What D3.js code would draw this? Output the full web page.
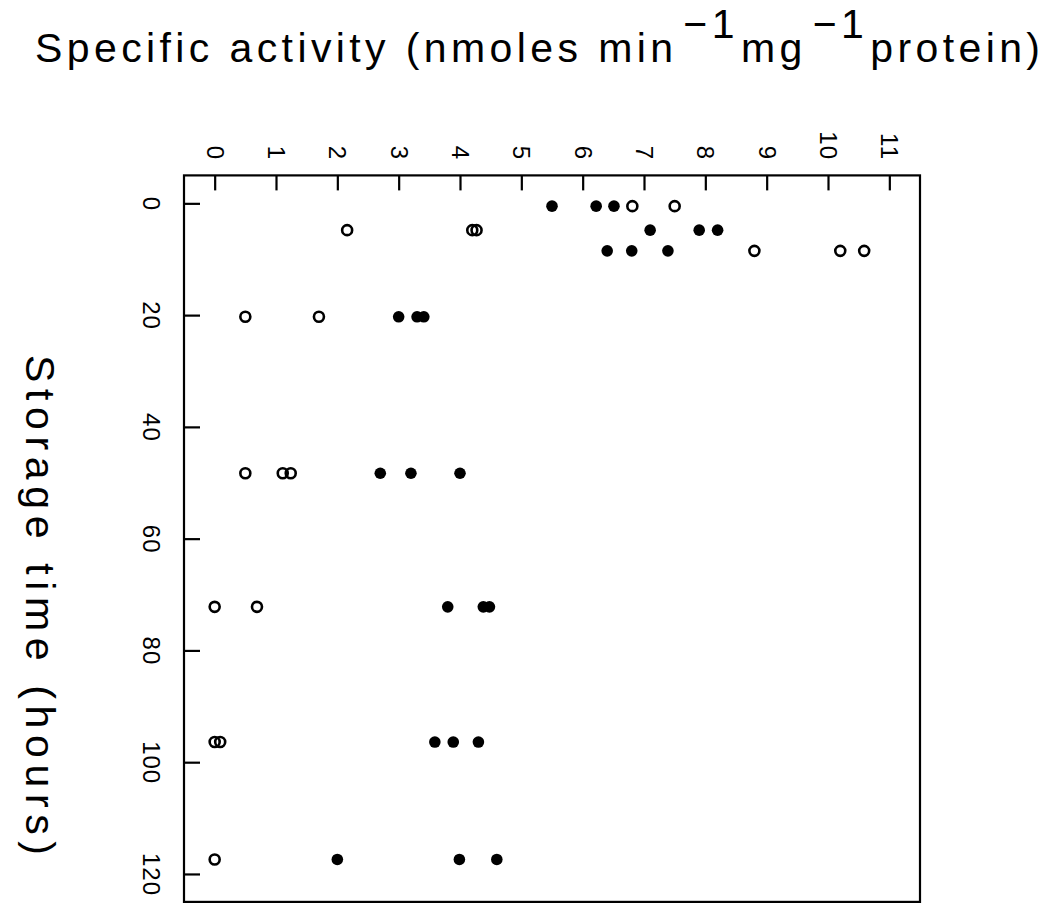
<!DOCTYPE html>
<html>
<head>
<meta charset="utf-8">
<script src="https://cdn.jsdelivr.net/npm/d3@7"></script>
<style>
  html, body { margin: 0; padding: 0; background: #fff; }
  svg { display: block; }
  text { font-family: "Liberation Sans", "DejaVu Sans", sans-serif; fill: #000; }
</style>
</head>
<body>
<svg id="chart" width="1059" height="908"></svg>
<script>
// ---- data ----
const activityTicks = [0, 1, 2, 3, 4, 5, 6, 7, 8, 9, 10, 11];
const timeTicks = [0, 20, 40, 60, 80, 100, 120];

// open circles
const openTime     = [0.5, 0.5, 4.8, 4.8, 4.8, 8.5, 8.5, 8.5, 20.3, 20.3, 48.3, 48.3, 48.3, 72.2, 72.2, 96.4, 96.4, 117.4];
const openActivity = [6.81, 7.50, 2.16, 4.20, 4.27, 8.80, 10.20, 10.59, 0.50, 1.70, 0.50, 1.11, 1.24, 0.00, 0.69, 0.00, 0.09, 0.00];

// filled circles
const filledTime     = [0.5, 0.5, 0.5, 4.8, 4.8, 4.8, 8.5, 8.5, 8.5, 20.3, 20.3, 20.3, 48.3, 48.3, 48.3, 72.2, 72.2, 72.2, 96.4, 96.4, 96.4, 117.4, 117.4, 117.4];
const filledActivity = [5.50, 6.22, 6.51, 7.10, 7.90, 8.20, 6.40, 6.80, 7.39, 3.00, 3.30, 3.41, 2.70, 3.20, 4.00, 3.80, 4.38, 4.48, 3.59, 3.89, 4.30, 2.00, 3.99, 4.60];

const titleParts = ["Specific activity (nmoles min", "\u22121", "mg", "\u22121", "protein)"];
const timeLabel = "Storage time (hours)";

// ---- layout ----
const svg = d3.select("#chart");
const pL = 184, pR = 920, pT = 175.4, pB = 901.9;

const x = d3.scaleLinear().domain([-0.5, 11.5]).range([pL, pR]);
const y = d3.scaleLinear().domain([-5, 125]).range([pT, pB]);

// frame
svg.append("rect")
  .attr("x", pL).attr("y", pT)
  .attr("width", pR - pL).attr("height", pB - pT)
  .attr("fill", "none").attr("stroke", "#000").attr("stroke-width", 2.2);

// top axis (activity)
const gx = svg.append("g")
  .attr("transform", `translate(0,${pT})`)
  .call(d3.axisTop(x).tickValues(activityTicks).tickSize(-15).tickFormat(d3.format("d")));
gx.select(".domain").remove();
gx.selectAll(".tick line").attr("stroke", "#000").attr("stroke-width", 2.2);
gx.selectAll(".tick text")
  .attr("x", null).attr("y", null).attr("dy", null)
  .attr("transform", `translate(0,${160 - pT}) rotate(90)`)
  .attr("text-anchor", "end")
  .attr("dominant-baseline", "central")
  .style("font-size", "24px")
  .style("letter-spacing", "1px");

// left axis (time)
const gy = svg.append("g")
  .attr("transform", `translate(${pL},0)`)
  .call(d3.axisLeft(y).tickValues(timeTicks).tickSize(-16).tickFormat(d3.format("d")));
gy.select(".domain").remove();
gy.selectAll(".tick line").attr("stroke", "#000").attr("stroke-width", 2.2);
gy.selectAll(".tick text")
  .attr("x", null).attr("y", null).attr("dy", null)
  .attr("transform", `translate(${151 - pL},0) rotate(90)`)
  .attr("text-anchor", "middle")
  .attr("dominant-baseline", "central")
  .style("font-size", "24px")
  .style("letter-spacing", "1px");

// points
const openPts = openTime.map((t, i) => ({ t, a: openActivity[i] }));
const filledPts = filledTime.map((t, i) => ({ t, a: filledActivity[i] }));

svg.append("g").selectAll("circle").data(openPts).join("circle")
  .attr("cx", d => x(d.a)).attr("cy", d => y(d.t))
  .attr("r", 5).attr("fill", "none").attr("stroke", "#000").attr("stroke-width", 2.6);

svg.append("g").selectAll("circle").data(filledPts).join("circle")
  .attr("cx", d => x(d.a)).attr("cy", d => y(d.t))
  .attr("r", 5.8).attr("fill", "#000");

// title
const title = svg.append("text")
  .attr("x", 35).attr("y", 62)
  .attr("textLength", 1005)
  .attr("lengthAdjust", "spacing")
  .style("font-size", "41px");
title.append("tspan").text(titleParts[0]);
title.append("tspan").attr("dy", -24).attr("dx", 6).text(titleParts[1]);
title.append("tspan").attr("dy", 24).attr("dx", 2).text(titleParts[2]);
title.append("tspan").attr("dy", -24).attr("dx", 6).text(titleParts[3]);
title.append("tspan").attr("dy", 24).attr("dx", 2).text(titleParts[4]);

// left label
svg.append("text")
  .attr("transform", `translate(40,605) rotate(90)`)
  .attr("text-anchor", "middle")
  .attr("dominant-baseline", "central")
  .attr("textLength", 500)
  .attr("lengthAdjust", "spacing")
  .style("font-size", "41px")
  .text(timeLabel);
</script>
</body>
</html>
